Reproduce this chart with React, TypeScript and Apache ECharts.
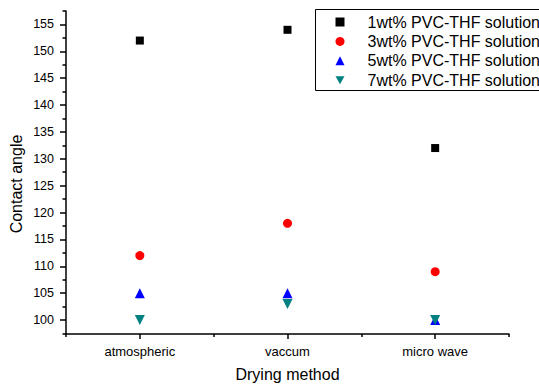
import React, { useEffect, useRef } from "react";
import * as echarts from "echarts";

const categories = ["atmospheric", "vaccum", "micro wave"];
const seriesNames = [
  "1wt% PVC-THF solution",
  "3wt% PVC-THF solution",
  "5wt% PVC-THF solution",
  "7wt% PVC-THF solution",
];
const wt1 = [152, 154, 132];
const wt3 = [112, 118, 109];
const wt5 = [105, 105, 100];
const wt7 = [100, 103, 100];
const yMajorTicks = [100, 105, 110, 115, 120, 125, 130, 135, 140, 145, 150, 155];
const yMinorTicks = [97.5, 102.5, 107.5, 112.5, 117.5, 122.5, 127.5, 132.5, 137.5, 142.5, 147.5, 152.5, 157.5];

const FONT = "'Liberation Sans', Arial, Helvetica, sans-serif";
const DOWN_TRI = "path://M0,0 L10,0 L5,9 Z";

export default function App() {
  const ref = useRef<HTMLDivElement>(null);
  useEffect(() => {
    if (!ref.current) return;
    const chart = echarts.init(ref.current, undefined, { renderer: "svg" });
    const mk = (name: string, data: number[], symbol: string, size: number, color: string) => ({
      name,
      type: "scatter",
      xAxisIndex: 0,
      yAxisIndex: 0,
      symbol,
      symbolSize: size,
      itemStyle: { color, opacity: 1 },
      emphasis: { disabled: true },
      data: data.map((v, i) => [categories[i], v]),
    });
    const axisLine = { show: true, lineStyle: { color: "#000", width: 1.5 } };
    chart.setOption({
      animation: false,
      textStyle: { fontFamily: FONT },
      grid: { left: 66, right: 30, top: 11, bottom: 50 },
      xAxis: [
        {
          type: "category",
          data: categories,
          boundaryGap: true,
          position: "bottom",
          axisLine,
          axisTick: { show: true, alignWithLabel: true, length: 5, lineStyle: { color: "#000", width: 1.5 } },
          axisLabel: { color: "#000", fontSize: 13, margin: 11, fontFamily: FONT },
          splitLine: { show: false },
          name: "Drying method",
          nameLocation: "middle",
          nameGap: 32,
          nameTextStyle: { color: "#000", fontSize: 16, fontFamily: FONT },
        },
        {
          type: "category",
          data: categories,
          boundaryGap: true,
          position: "bottom",
          axisLine: { show: false },
          axisTick: { show: true, length: 3, lineStyle: { color: "#000", width: 1.5 } },
          axisLabel: { show: false },
          splitLine: { show: false },
        },
      ],
      yAxis: [
        {
          type: "value",
          position: "left",
          min: 97.4,
          max: 157.5,
          axisLine,
          axisTick: { show: true, length: 6, customValues: yMajorTicks, lineStyle: { color: "#000", width: 1.5 } },
          axisLabel: { color: "#000", fontSize: 12.5, margin: 12, customValues: yMajorTicks, fontFamily: FONT },
          splitLine: { show: false },
        },
        {
          type: "value",
          position: "left",
          min: 97.4,
          max: 157.5,
          axisLine: { show: false },
          axisTick: { show: true, length: 3.5, customValues: yMinorTicks, lineStyle: { color: "#000", width: 1.5 } },
          axisLabel: { show: false, customValues: yMinorTicks },
          splitLine: { show: false },
        },
      ],
      legend: {
        orient: "vertical",
        left: 335.5,
        top: 13,
        padding: 0,
        itemWidth: 9,
        itemHeight: 9,
        itemGap: 1.4,
        data: seriesNames,
        textStyle: { color: "#000", fontSize: 16, lineHeight: 18, fontFamily: FONT, padding: [0, 0, 0, 18] },
      },
      graphic: [
        {
          type: "rect",
          shape: { x: 315.5, y: 9.5, width: 240, height: 81 },
          style: { fill: "none", stroke: "#000", lineWidth: 1 },
          silent: true,
          z: 100,
        },
        {
          type: "text",
          x: 16.5,
          y: 184,
          rotation: Math.PI / 2,
          style: {
            text: "Contact angle",
            font: `16px ${FONT}`,
            fill: "#000",
            textAlign: "center",
            textVerticalAlign: "middle",
            align: "center",
            verticalAlign: "middle",
          },
        },
      ],
      series: [
        mk(seriesNames[0], wt1, "rect", 8, "#000000"),
        mk(seriesNames[1], wt3, "circle", 9, "#ff0000"),
        mk(seriesNames[2], wt5, "triangle", 10, "#0000ff"),
        mk(seriesNames[3], wt7, DOWN_TRI, 10, "#008080"),
      ],
    });
    return () => chart.dispose();
  }, []);
  return (
    <div
      ref={ref}
      style={{ position: "fixed", left: 0, top: 0, width: 539, height: 387, background: "#fff" }}
    />
  );
}
